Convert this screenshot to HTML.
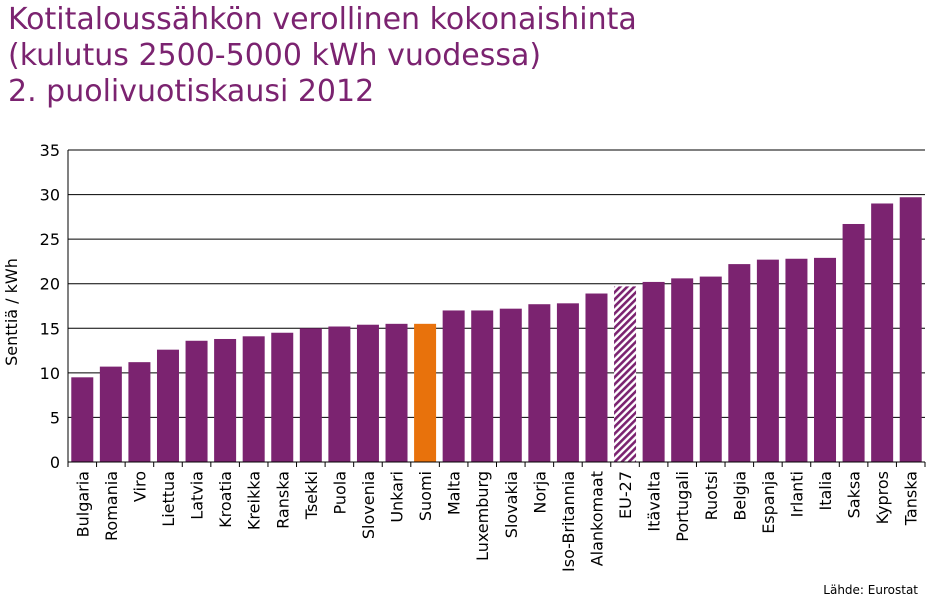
<!DOCTYPE html>
<html><head><meta charset="utf-8"><style>
body{margin:0;background:#fff;width:933px;height:600px;overflow:hidden;font-family:"DejaVu Sans","Liberation Sans",sans-serif}
.title{position:absolute;left:8px;top:2px;color:#7b2370;font-size:30px;line-height:36px}
</style></head><body>
<div class="title">Kotitaloussähkön verollinen kokonaishinta<br>(kulutus 2500-5000 kWh vuodessa)<br>2. puolivuotiskausi 2012</div>
<svg id="c" width="933" height="600" style="position:absolute;left:0;top:0"></svg>
<script>
const categories=["Bulgaria","Romania","Viro","Liettua","Latvia","Kroatia","Kreikka","Ranska","Tsekki","Puola","Slovenia","Unkari","Suomi","Malta","Luxemburg","Slovakia","Norja","Iso-Britannia","Alankomaat","EU-27","Itävalta","Portugali","Ruotsi","Belgia","Espanja","Irlanti","Italia","Saksa","Kypros","Tanska"];
const values=[9.5,10.7,11.2,12.6,13.6,13.8,14.1,14.5,15.0,15.2,15.4,15.5,15.5,17.0,17.0,17.2,17.7,17.8,18.9,19.7,20.2,20.6,20.8,22.2,22.7,22.8,22.9,26.7,29.0,29.7];
const ticks=[0,5,10,15,20,25,30,35];
const NS="http://www.w3.org/2000/svg",svg=document.getElementById('c');
const L=68,R=925,T=150,B=462,maxV=35;
const y=v=>B-(v/maxV)*(B-T);
const step=(R-L)/categories.length;
const x=i=>L+i*step;
function mk(t,a,p){const e=document.createElementNS(NS,t);for(const k in a)e.setAttribute(k,a[k]);(p||svg).appendChild(e);return e;}
const defs=mk('defs',{});
const pat=mk('pattern',{id:'h',width:5,height:5,patternUnits:'userSpaceOnUse',patternTransform:'rotate(45)'},defs);
mk('rect',{width:5,height:5,fill:'#fff'},pat);
mk('rect',{width:2.6,height:5,fill:'#7b2370'},pat);
ticks.forEach(t=>{
 const g=mk('line',{x1:L,x2:R,y1:y(t),y2:y(t),stroke:'#000','stroke-width':1});
 
 
 const tx=mk('text',{x:L-8,y:y(t)+6,'text-anchor':'end','font-size':16,fill:'#000'});
 tx.textContent=t;
 
 
});
mk('line',{x1:L,x2:L,y1:T,y2:B,stroke:'#000'});
categories.forEach((c,i)=>{
 const w=22,cx=x(i)+step/2;
 const fill=c==='Suomi'?'#e8720c':(c==='EU-27'?'url(#h)':'#7b2370');
 const r=mk('rect',{x:cx-w/2,y:y(values[i]),width:w,height:B-y(values[i]),fill:fill});
 
 
 mk('line',{x1:x(i),x2:x(i),y1:B,y2:B+5,stroke:'#000'});
 const t=mk('text',{x:0,y:0,'text-anchor':'end','font-size':16,fill:'#000',transform:`translate(${cx+6},${B+9}) rotate(-90)`});
 t.textContent=c;
 
 
});
mk('line',{x1:R,x2:R,y1:B,y2:B+5,stroke:'#000'});
mk('line',{x1:L,x2:R,y1:B,y2:B,stroke:'#000'});
const yt=mk('text',{x:0,y:0,'text-anchor':'middle','font-size':16,transform:`translate(17,${(T+B)/2+6}) rotate(-90)`});
yt.textContent='Senttiä / kWh';


const s=mk('text',{x:918,y:594,'text-anchor':'end','font-size':12});
s.textContent='Lähde: Eurostat';


</script>
</body></html>
